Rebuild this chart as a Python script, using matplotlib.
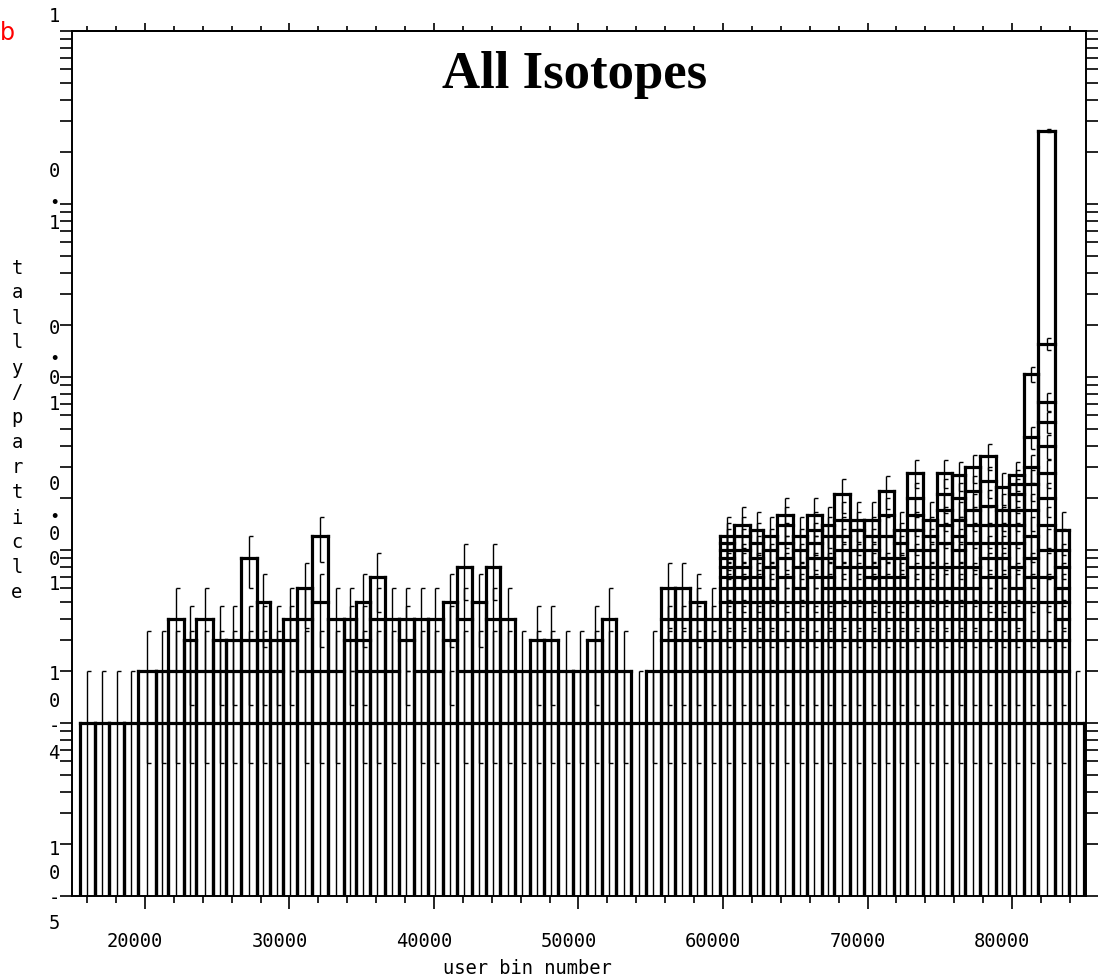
import numpy as np
import matplotlib
matplotlib.use("Agg")
import matplotlib.pyplot as plt
from matplotlib.collections import LineCollection
from matplotlib.transforms import ScaledTranslation
from matplotlib.ticker import MultipleLocator, LogLocator, NullFormatter

# ---------------- data ----------------
elements = list(range(16, 85))  # Z of each user bin (ZZAAA ~ Z*1000)
bin_edges = [15500, 16530, 17540, 18540, 19520, 20740, 21595, 22700, 23510, 24740,
             25600, 26625, 27735, 28655, 29580, 30500, 31590, 32695, 33775, 34585,
             35580, 36585, 37590, 38590, 39590, 40590, 41600, 42600, 43600, 44600,
             45600, 46610, 47610, 48615, 49620, 50620, 51625, 52630, 53630, 54700,
             55680, 56690, 57700, 58750, 59780, 60750, 61850, 62800, 63750, 64850,
             65800, 66830, 67700, 68800, 69780, 70780, 71800, 72740, 73850, 74800,
             75830, 76780, 77800, 78900, 79780, 80800, 81830, 82950, 83920, 84950]
count_unit = 1e-4   # tally per particle of one count
bin_counts = [
    [1], [1], [1], [1],                              # Z16-19
    [2, 1], [2, 1], [4, 2, 1], [3, 2, 1], [4, 2, 1],  # Z20-24
    [3, 2, 1], [3, 2, 1], [9, 3, 2, 1], [5, 3, 2, 1], [3, 2, 1],  # Z25-29
    [4, 3, 1], [6, 4, 2, 1], [12, 5, 2, 1], [4, 2, 1], [4, 3, 1],  # Z30-34
    [5, 3, 2, 1], [7, 4, 2, 1], [4, 2, 1], [4, 3, 1], [4, 2, 1],  # Z35-39
    [4, 2, 1], [5, 3, 1], [8, 4, 2, 1], [5, 2, 1], [8, 4, 2, 1],  # Z40-44
    [4, 2, 1], [2, 1], [3, 2, 1], [3, 2, 1], [2, 1],  # Z45-49
    [2, 1], [3, 2, 1], [4, 2, 1], [2, 1], [1],        # Z50-54
    [2, 1], [6, 4, 3, 2, 1], [6, 4, 3, 2, 1], [5, 4, 3, 2, 1], [4, 3, 2, 1],  # Z55-59
    [12, 11, 10, 9, 8, 7, 6, 5, 4, 3, 2, 1],          # Z60
    [14, 12, 10, 8, 7, 6, 5, 4, 3, 2, 1],             # Z61
    [13, 11, 9, 7, 6, 5, 4, 3, 2, 1],                 # Z62
    [12, 10, 8, 6, 5, 4, 3, 2, 1],                    # Z63
    [16, 14, 11, 9, 7, 5, 4, 3, 2, 1],                # Z64
    [12, 10, 8, 6, 5, 4, 3, 2, 1],                    # Z65
    [16, 13, 11, 9, 7, 5, 4, 3, 2, 1],                # Z66
    [14, 12, 9, 7, 6, 5, 4, 3, 2, 1],                 # Z67
    [21, 15, 12, 10, 8, 6, 5, 4, 3, 2, 1],            # Z68
    [15, 13, 10, 8, 6, 5, 4, 3, 2, 1],                # Z69
    [15, 12, 10, 8, 7, 6, 5, 4, 3, 2, 1],             # Z70
    [22, 16, 12, 9, 7, 6, 5, 4, 3, 2, 1],             # Z71
    [13, 11, 9, 7, 6, 5, 4, 3, 2, 1],                 # Z72
    [28, 20, 16, 13, 10, 8, 6, 5, 4, 3, 2, 1],        # Z73
    [15, 12, 10, 8, 6, 5, 4, 3, 2, 1],                # Z74
    [28, 21, 17, 14, 11, 8, 6, 5, 4, 3, 2, 1],        # Z75
    [27, 20, 15, 12, 10, 8, 6, 5, 4, 3, 2, 1],        # Z76
    [30, 22, 17, 14, 11, 8, 6, 5, 4, 3, 2, 1],        # Z77
    [35, 25, 18, 14, 11, 9, 7, 5, 4, 3, 2, 1],        # Z78
    [23, 17, 14, 11, 9, 7, 5, 4, 3, 2, 1],            # Z79
    [27, 24, 21, 17, 14, 11, 8, 6, 5, 4, 3, 2, 1],    # Z80
    [104, 45, 30, 24, 17, 12, 9, 7, 5, 3, 2, 1],      # Z81
    [2650, 155, 72, 55, 40, 28, 20, 14, 10, 7, 5, 3, 2, 1],  # Z82
    [13, 10, 8, 6, 5, 4, 3, 2, 1],                    # Z83
    [1],                                              # Z84
]
x_tick_values = [20000, 30000, 40000, 50000, 60000, 70000, 80000]
title_text = "All Isotopes"
x_label = "user bin number"
y_label = "tally/particle"
# garbled vertical y tick labels of the original (char, pixel-y centre)
y_label_chars = [("1", 15), ("0", 170), ("•", 203), ("1", 222),
                 ("0", 327), ("•", 359), ("0", 377), ("1", 403),
                 ("0", 483), ("•", 517), ("0", 533), ("0", 558), ("1", 583),
                 ("1", 673), ("0", 700), ("-", 725), ("4", 752),
                 ("1", 848), ("0", 872), ("-", 897), ("5", 922)]

# ---------------- figure ----------------
W, H = 1104, 979
fig = plt.figure(figsize=(W / 100, H / 100), dpi=100)
L, R, T, B = 72, 1086, 32, 897
ax = fig.add_axes([L / W, 1 - B / H, (R - L) / W, (B - T) / H])
ax.set_yscale("log")
YMIN, YMAX = 1e-5, 1.0
XMIN, XMAX = 14950, 85120
ylow = YMIN * 0.9
px = (XMAX - XMIN) / (R - L)   # data units per pixel
cap = 4 * px

box_segs, err_segs = [], []
for i, lev in enumerate(bin_counts):
    l, r = bin_edges[i], bin_edges[i + 1]
    c = 0.5 * (l + r)
    vmax = max(lev) * count_unit
    box_segs.append([(l, ylow), (l, vmax)])
    box_segs.append([(r, ylow), (r, vmax)])
    for n in lev:
        v = n * count_unit
        box_segs.append([(l, v), (r, v)])
        rel = 1.0 / np.sqrt(n)
        hi = v * (1 + rel)
        lo = v * (1 - rel) if n > 1 else ylow
        err_segs.append([(c, lo), (c, hi)])
        err_segs.append([(c, hi), (c + cap, hi)])
        if n > 1:
            err_segs.append([(c, lo), (c + cap, lo)])

ax.add_collection(LineCollection(err_segs, colors="black", linewidths=1.0))
ax.add_collection(LineCollection(box_segs, colors="black", linewidths=2.3,
                                 capstyle="projecting"))
ax.set_xlim(XMIN, XMAX)
ax.set_ylim(YMIN, YMAX)

for s in ax.spines.values():
    s.set_linewidth(1.4)

ax.yaxis.set_major_locator(LogLocator(base=10, numticks=10))
ax.yaxis.set_minor_locator(LogLocator(base=10, subs=np.arange(2, 10), numticks=20))
ax.yaxis.set_major_formatter(NullFormatter())
ax.yaxis.set_minor_formatter(NullFormatter())
ax.tick_params(axis="y", which="both", direction="out", length=12 * 0.72,
               width=1.2, left=True, right=True, labelleft=False)

ax.xaxis.set_major_locator(plt.FixedLocator(x_tick_values))
ax.xaxis.set_minor_locator(MultipleLocator(2000))
ax.set_xticklabels([str(v) for v in x_tick_values])
ax.tick_params(axis="x", which="major", direction="out", length=13 * 0.72,
               width=1.2, pad=22 * 0.72, labelsize=13.5,
               labelfontfamily="DejaVu Sans Mono")
ax.tick_params(axis="x", which="minor", direction="out", length=7 * 0.72,
               width=1.2)
off = ScaledTranslation(-10 / 100, 0, fig.dpi_scale_trans)
for lab in ax.get_xticklabels():
    lab.set_transform(lab.get_transform() + off)

sec = ax.secondary_xaxis("top")
sec.xaxis.set_major_locator(MultipleLocator(10000))
sec.xaxis.set_minor_locator(MultipleLocator(2000))
sec.tick_params(axis="x", which="major", direction="out", length=8 * 0.72,
                width=1.2, labeltop=False)
sec.tick_params(axis="x", which="minor", direction="out", length=5 * 0.72,
                width=1.2)
sec.set_xticklabels([])
sec.spines["top"].set_linewidth(1.4)

mono = "DejaVu Sans Mono"
for ch, yc in y_label_chars:
    if ch == "•":
        fig.text(54 / W, 1 - (yc + 4) / H, ch, ha="center", va="baseline",
                 family=mono, size=10, weight="bold")
    else:
        fig.text(54 / W, 1 - (yc + 7) / H, ch, ha="center", va="baseline",
                 family=mono, size=13.5)

for k, ch in enumerate(y_label):
    fig.text(17 / W, 1 - (268 + 25 * k) / H, ch, ha="center", va="center",
             family=mono, size=13.5)

fig.text(527 / W, 1 - 974 / H, x_label, ha="center", va="baseline",
         family=mono, size=13.5)

fig.text(575 / W, 1 - 88 / H, title_text, ha="center", va="baseline",
         family="Liberation Serif", weight="bold", size=38)

fig.text(0 / W, 1 - 40 / H, "b", ha="left", va="baseline", color="red",
         family="DejaVu Sans", size=17)

fig.savefig("out.png", dpi=100)
